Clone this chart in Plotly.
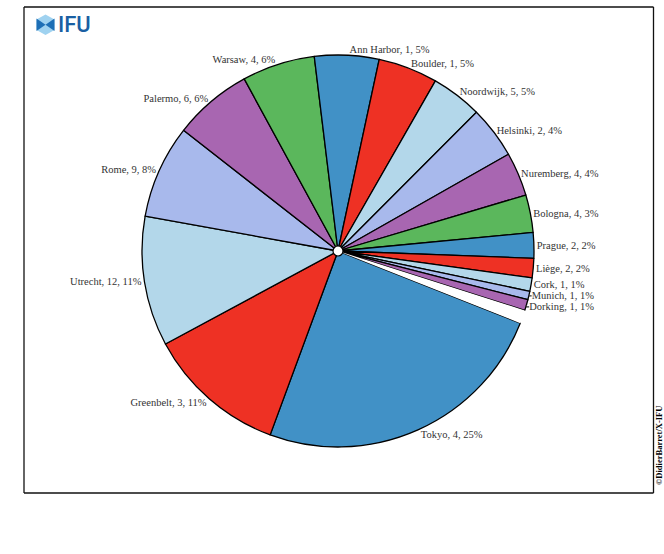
import plotly.graph_objects as go

# ---- data (clockwise, starting with Tokyo) ----
cities = ["Tokyo", "Greenbelt", "Utrecht", "Rome", "Palermo", "Warsaw",
          "Ann Harbor", "Boulder", "Noordwijk", "Helsinki", "Nuremberg",
          "Bologna", "Prague", "Liège", "Cork", "Munich", "Dorking", ""]
counts = [4, 3, 12, 9, 6, 4, 1, 1, 5, 2, 4, 4, 2, 2, 1, 1, 1, None]
pct_labels = [25, 11, 11, 8, 6, 6, 5, 5, 5, 4, 4, 3, 2, 2, 1, 1, 1, None]
# slice shares (last one = blank gap slice)
shares = [24.6, 11.5, 10.7, 7.7, 6.5, 6.0, 5.3, 4.9, 4.2, 4.3, 3.6,
          3.1, 2.1, 1.6, 1.1, 0.7, 0.9, 1.1]

palette = ["#4191c6", "#ee3124", "#b3d7ea", "#a8b9ec", "#a866b1", "#5bb75c"]
colors = [palette[i % 6] for i in range(len(cities) - 1)] + ["white"]
line_w = [1.3] * (len(cities) - 1) + [0]
texts = [f"{c}, {n}, {p}%" if n is not None else "" for c, n, p in zip(cities, counts, pct_labels)]
tpos = ["outside"] * (len(cities) - 1) + ["none"]

W, H = 664, 554
L, R, T, B = 24, 10, 7, 61
PW, PH = W - L - R, H - T - B


def px(x, y):
    return (x - L) / PW, 1 - (y - T) / PH


cx, cy, rad = 338, 251, 196
pcx, pcy = px(cx, cy)

fig = go.Figure(go.Pie(
    labels=[c if c else "gap" for c in cities],
    values=shares,
    text=texts,
    textinfo="text",
    textposition=tpos,
    sort=False,
    direction="clockwise",
    rotation=111.6,
    marker=dict(colors=colors, line=dict(color="black", width=line_w)),
    outsidetextfont=dict(family="Liberation Serif", size=10.5, color="#333333"),
    domain=dict(x=[pcx - rad / PW, pcx + rad / PW], y=[pcy - rad / PH, pcy + rad / PH]),
    showlegend=False,
    hoverinfo="none",
))

frame = dict(color="#111111", width=1.3)
xr, _ = px(653.5, 0)
shapes = [
    dict(type="line", xref="paper", yref="paper", x0=0, y0=0, x1=xr, y1=0, line=frame),
    dict(type="line", xref="paper", yref="paper", x0=0, y0=1, x1=xr, y1=1, line=frame),
    dict(type="line", xref="paper", yref="paper", x0=0, y0=0, x1=0, y1=1, line=frame),
    dict(type="line", xref="paper", yref="paper", x0=xr, y0=0, x1=xr, y1=1, line=frame),
]
# centre dot
x0, y0 = px(cx - 5, cy + 5)
x1, y1 = px(cx + 5, cy - 5)
shapes.append(dict(type="circle", xref="paper", yref="paper", x0=x0, y0=y0, x1=x1, y1=y1,
                   fillcolor="white", line=dict(color="black", width=1.2)))


def path(pts):
    s = ""
    for i, (x, y) in enumerate(pts):
        a, b = px(x, y)
        s += ("M" if i == 0 else "L") + f"{a:.5f},{b:.5f} "
    return s + "Z"


hexa = [(45.5, 14.5), (54.5, 19.5), (54.5, 30), (45.5, 35), (36.5, 30), (36.5, 19.5)]
shapes.append(dict(type="path", xref="paper", yref="paper", path=path(hexa),
                   fillcolor="#9fd2f0", line=dict(width=0)))
shapes.append(dict(type="path", xref="paper", yref="paper",
                   path=path([(36.5, 18.5), (45.5, 24.8), (36.5, 31)]),
                   fillcolor="#1d6fb6", line=dict(width=0)))
shapes.append(dict(type="path", xref="paper", yref="paper",
                   path=path([(54.5, 18.5), (45.5, 24.8), (54.5, 31)]),
                   fillcolor="#1d6fb6", line=dict(width=0)))

lx, ly = px(56, 25)
cx2, cy2 = px(659, 446)
annotations = [
    dict(text="IFU", xref="paper", yref="paper", x=lx, y=ly, xanchor="left", yanchor="middle",
         showarrow=False, font=dict(family="Roboto Medium, Roboto", size=22, color="#1a5fa3")),
    dict(text="<b>©DidierBarret/X-IFU</b>", xref="paper", yref="paper", x=cx2, y=cy2,
         xanchor="center", yanchor="middle", textangle=-90, showarrow=False,
         font=dict(family="Liberation Serif", size=8.5, color="black")),
]

fig.update_layout(
    width=W, height=H,
    margin=dict(l=L, r=R, t=T, b=B),
    paper_bgcolor="white", plot_bgcolor="white",
    shapes=shapes, annotations=annotations,
)

fig.write_html(
    "out.html",
    config={"displayModeBar": False},
    post_script="document.body.style.margin='0';document.body.style.overflow='hidden';",
)
